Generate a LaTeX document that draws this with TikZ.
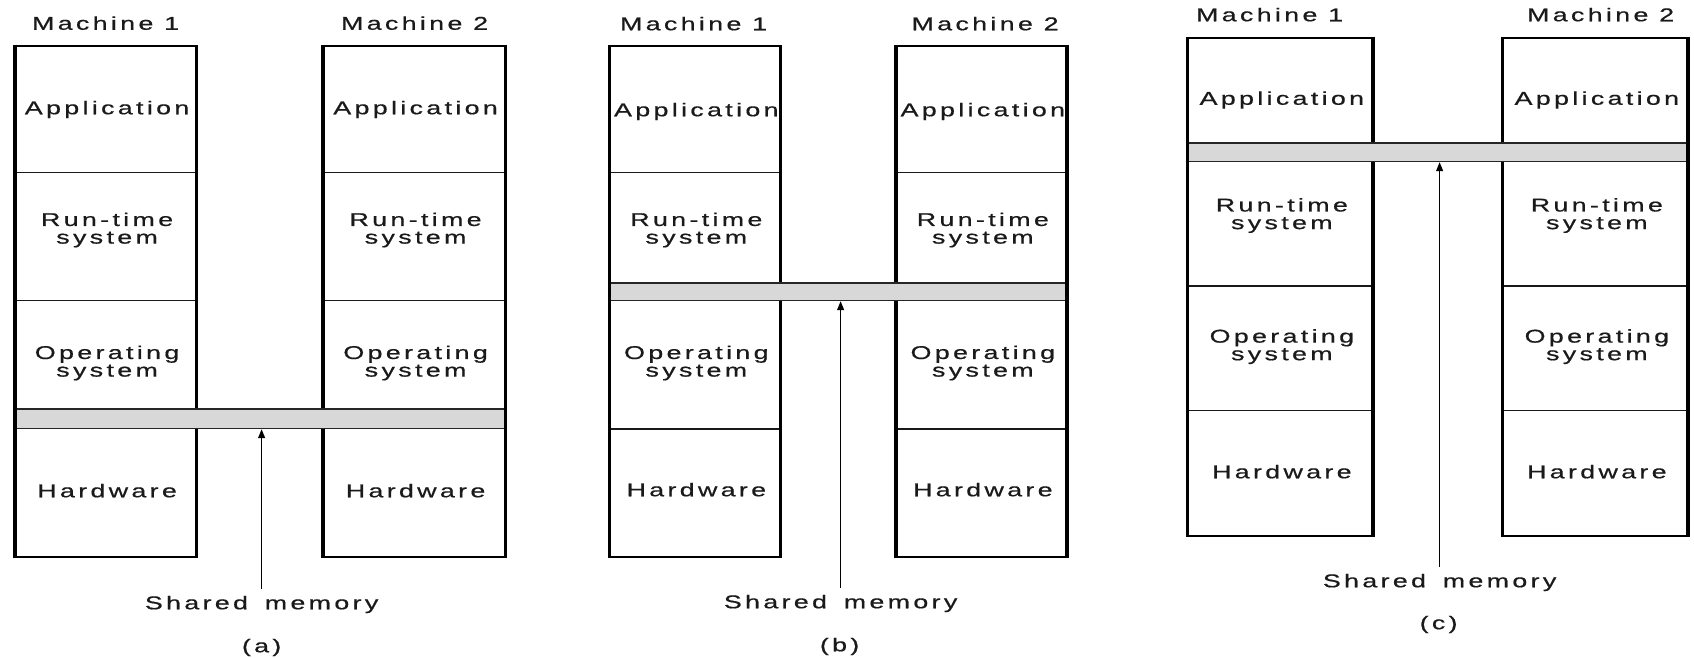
\documentclass[tikz,border=0pt]{standalone}
\usepackage{fontspec}
\setmainfont{Liberation Sans}[FakeStretch=1.45,LetterSpace=18,FakeBold=0.6]
\usetikzlibrary{arrows.meta}
\definecolor{ink}{HTML}{1A1A1A}
\definecolor{shm}{HTML}{D8D8D8}
\begin{document}
\begin{tikzpicture}[x=1pt,y=-1pt,
  lbl/.style={font=\fontsize{18.5}{17.6}\selectfont, text=ink, inner sep=0pt,
              text height=12.5pt, text depth=0pt, xshift=1.6pt},
  lbltwo/.style={font=\fontsize{18.5}{17.6}\selectfont, text=ink, inner sep=0pt,
              align=center, xshift=1.6pt},
  box/.style={draw=black, line width=2pt, inner sep=0pt, outer sep=0pt},
  sep/.style={draw=black!90, line width=1.2pt},
  band/.style={draw=black!85, line width=1.4pt, fill=shm, inner sep=0pt},
  ptr/.style={-{Triangle[length=9pt,width=7pt]}, line width=1.2pt, shorten <=8pt}]

\useasboundingbox[fill=white] (0,0) rectangle (1694,657);

% ---------------- (a) memory shared below the operating system
\node[box, minimum width=182, minimum height=511] (a1) at (105.5,301) {};
\node[box, minimum width=182, minimum height=511] (a2) at (414,301) {};
\foreach \m in {a1,a2}{
  \draw[sep] (\m.west |- 0,172.6) -- (\m.east |- 0,172.6);
  \draw[sep] (\m.west |- 0,300.8) -- (\m.east |- 0,300.8);
}
\draw[line width=2.6pt] ([yshift=1pt]a1.north east) -- ([yshift=-1pt]a1.south east);
\draw[line width=4.5pt] ([yshift=1pt]a2.north west) -- ([yshift=-1pt]a2.south west);
\node[band, minimum width=490.5, minimum height=19.5] (banda) at (259.75,418.75) {};
\draw[line width=4pt] ([yshift=1pt]a1.north west) -- ([yshift=-1pt]a1.south west);
\draw[line width=3pt] ([yshift=1pt]a2.north east) -- ([yshift=-1pt]a2.south east);

\node[lbl] (a1name) at (104,23.5) {Machine 1};
\node[lbl] (a2name) at (413,23.5) {Machine 2};
\node[lbl] (a1app) at (105.5,108) {Application};
\node[lbl] (a2app) at (414,108) {Application};
\node[lbltwo] (a1rts) at (105.5,230) {Run-time\\system};
\node[lbltwo] (a2rts) at (414,230) {Run-time\\system};
\node[lbltwo] (a1os) at (105.5,363) {Operating\\system};
\node[lbltwo] (a2os) at (414,363) {Operating\\system};
\node[lbl] (a1hw) at (105.5,491) {Hardware};
\node[lbl] (a2hw) at (414,491) {Hardware};
\node[lbl] (sma) at (260,603) {Shared\hspace{6pt} memory};
\node[lbl] (capa) at (260,646) {(a)};
\draw[ptr] (sma.north) -- (sma.north |- banda.south);

% ---------------- (b) memory shared between the operating system and the run-time system
\node[box, minimum width=170.5, minimum height=510.5] (b1) at (694.75,301.25) {};
\node[box, minimum width=171.5, minimum height=510.5] (b2) at (981.25,301.25) {};
\foreach \m in {b1,b2}{
  \draw[sep] (\m.west |- 0,172.6) -- (\m.east |- 0,172.6);
  \draw[sep] (\m.west |- 0,429) -- (\m.east |- 0,429);
}
\draw[line width=3pt] ([yshift=1pt]b1.north east) -- ([yshift=-1pt]b1.south east);
\draw[line width=4pt] ([yshift=1pt]b2.north west) -- ([yshift=-1pt]b2.south west);
\node[band, minimum width=457.5, minimum height=17.5] (bandb) at (838.25,291.75) {};
\draw[line width=3pt] ([yshift=1pt]b1.north west) -- ([yshift=-1pt]b1.south west);
\draw[line width=4pt] ([yshift=1pt]b2.north east) -- ([yshift=-1pt]b2.south east);

\node[lbl] (b1name) at (692,24) {Machine 1};
\node[lbl] (b2name) at (983.5,24) {Machine 2};
\node[lbl] (b1app) at (694.75,110) {Application};
\node[lbl] (b2app) at (981.25,110) {Application};
\node[lbltwo] (b1rts) at (694.75,230) {Run-time\\system};
\node[lbltwo] (b2rts) at (981.25,230) {Run-time\\system};
\node[lbltwo] (b1os) at (694.75,363) {Operating\\system};
\node[lbltwo] (b2os) at (981.25,363) {Operating\\system};
\node[lbl] (b1hw) at (694.75,490) {Hardware};
\node[lbl] (b2hw) at (981.25,490) {Hardware};
\node[lbl] (smb) at (839,602) {Shared\hspace{6pt} memory};
\node[lbl] (capb) at (838,645) {(b)};
\draw[ptr] (smb.north) -- (smb.north |- bandb.south);

% ---------------- (c) memory shared just below the application
\node[box, minimum width=185.5, minimum height=498.3] (c1) at (1280.25,286.85) {};
\node[box, minimum width=185.5, minimum height=498.3] (c2) at (1595.25,286.85) {};
\foreach \m in {c1,c2}{
  \draw[sep] (\m.west |- 0,286) -- (\m.east |- 0,286);
  \draw[sep] (\m.west |- 0,410.6) -- (\m.east |- 0,410.6);
}
\draw[line width=4pt] ([yshift=1pt]c1.north east) -- ([yshift=-1pt]c1.south east);
\draw[line width=3pt] ([yshift=1pt]c2.north west) -- ([yshift=-1pt]c2.south west);
\node[band, minimum width=500.5, minimum height=18.5] (bandc) at (1437.75,152.25) {};
\draw[line width=3pt] ([yshift=1pt]c1.north west) -- ([yshift=-1pt]c1.south west);
\draw[line width=4pt] ([yshift=1pt]c2.north east) -- ([yshift=-1pt]c2.south east);

\node[lbl] (c1name) at (1268,15) {Machine 1};
\node[lbl] (c2name) at (1599,15) {Machine 2};
\node[lbl] (c1app) at (1280.25,98.5) {Application};
\node[lbl] (c2app) at (1595.25,98.5) {Application};
\node[lbltwo] (c1rts) at (1280.25,215.5) {Run-time\\system};
\node[lbltwo] (c2rts) at (1595.25,215.5) {Run-time\\system};
\node[lbltwo] (c1os) at (1280.25,346.6) {Operating\\system};
\node[lbltwo] (c2os) at (1595.25,346.6) {Operating\\system};
\node[lbl] (c1hw) at (1280.25,472) {Hardware};
\node[lbl] (c2hw) at (1595.25,472) {Hardware};
\node[lbl] (smc) at (1438,581) {Shared\hspace{6pt} memory};
\node[lbl] (capc) at (1437,623) {(c)};
\draw[ptr] (smc.north) -- (smc.north |- bandc.south);
\end{tikzpicture}
\end{document}
